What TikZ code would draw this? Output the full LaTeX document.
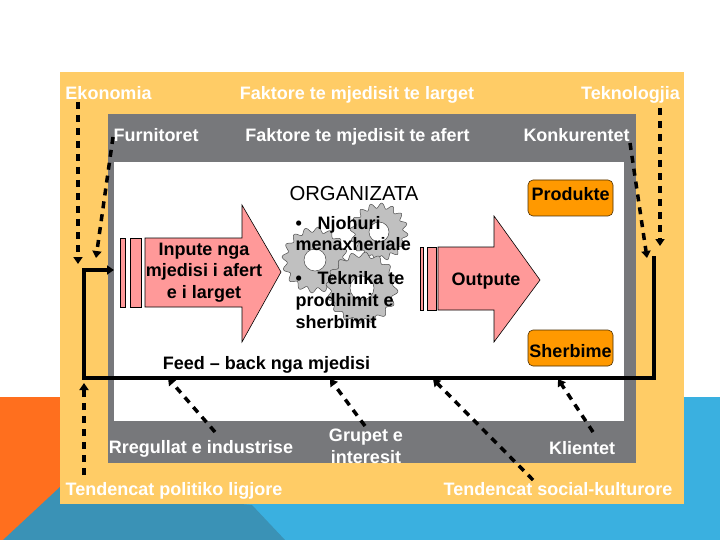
\documentclass[tikz,border=0pt]{standalone}
\usepackage{fontspec}
\setmainfont{Liberation Sans}
\usetikzlibrary{arrows.meta}
\definecolor{panel}{HTML}{FFCC66}
\definecolor{midgray}{HTML}{77787B}
\definecolor{lightblue}{HTML}{3AB0E0}
\definecolor{tealblue}{HTML}{3A92B6}
\definecolor{flame}{HTML}{FF6F1E}
\definecolor{pinkfill}{HTML}{FF9999}
\definecolor{tagfill}{HTML}{FF9900}
\definecolor{gearfill}{HTML}{C0C0C0}
\newcommand{\firststrut}{\rule{0pt}{14pt}}
\newcommand{\drawgear}[4]{% x, y, radius, hole
  \draw[gearline] plot[domain=0:360,samples=241,smooth] ({#1+(#3-2.6+2.6*sin(16*\x))*cos(\x)},{#2+(#3-2.6+2.6*sin(16*\x))*sin(\x)}) -- cycle;
  \draw[gearline,fill=white] (#1,#2) circle (#4);
}
\tikzset{
  x=1pt,y=-1pt,
  gearline/.style={draw=black!70,line width=0.5pt,fill=gearfill},
  wlabel/.style={font=\fontsize{18}{22}\selectfont\bfseries,text=white,inner sep=0,anchor=base},
  klabel/.style={font=\fontsize{18}{22}\selectfont\bfseries,text=black,inner sep=0,anchor=base},
  blockarrow/.style={draw=black,line width=0.6pt,fill=pinkfill},
  tagbox/.style={draw=black!70!tagfill,line width=0.6pt,fill=tagfill,rounded corners=5pt,minimum width=85pt,minimum height=36pt,inner sep=0},
  influence/.style={line width=3.5pt,dash pattern=on 7pt off 6pt,-{Triangle[width=9pt,length=7pt]}},
  feedback/.style={line width=3.5pt,line cap=rect}
}
\begin{document}
\begin{tikzpicture}
\useasboundingbox (0,0) rectangle (720,540);
\fill[white] (0,0) rectangle (720,540);
\fill[lightblue] (0,397) rectangle (720,540);
\fill[flame] (0,397) rectangle (60,540);
\fill[tealblue] (3,540) -- (60,487) -- (252,505) -- (285,540) -- cycle;
\fill[panel] (60,72) rectangle (684,504);
\fill[midgray] (108,114) rectangle (636,463);
\fill[white] (114,162) rectangle (624,421);

% labels on the outer and middle bands
\node[wlabel] (ekonomia) at (108.5,100) {Ekonomia};
\node[wlabel] (faktL) at (357,100) {Faktore te mjedisit te larget};
\node[wlabel] (tekn) at (630.5,100) {Teknologjia};
\node[wlabel] (furn) at (156,142) {Furnitoret};
\node[wlabel] (faktA) at (357.5,142) {Faktore te mjedisit te afert};
\node[wlabel] (konk) at (576.5,142) {Konkurentet};
\node[wlabel] (rreg) at (201,453) {Rregullat e industrise};
\node[wlabel,anchor=north,align=center] (grup) at (366,427) {\firststrut Grupet e\\interesit};
\node[wlabel] (klient) at (582,454) {Klientet};
\node[wlabel] (polit) at (174,495.5) {Tendencat politiko ligjore};
\node[wlabel] (social) at (558,495.5) {Tendencat social-kulturore};

% input arrow
\draw[blockarrow] (120,238) rectangle (125,307);
\draw[blockarrow] (130,238) rectangle (141,307);
\draw[blockarrow] (145,238) -- (242,238) -- (242,205) -- (281,272) -- (242,342) -- (242,307) -- (145,307) -- cycle;
\node[klabel,anchor=north,align=center] (inpute) at (204,241) {\firststrut Inpute nga\\[-0.5pt]mjedisi i afert\\[-0.5pt]e i larget};

% output arrow
\draw[blockarrow] (420,247) rectangle (423,310);
\draw[blockarrow] (427,247) rectangle (436,310);
\draw[blockarrow] (438,247) -- (494,247) -- (494,216) -- (540,280) -- (494,342) -- (494,310) -- (438,310) -- cycle;
\node[klabel] (outpute) at (486,285) {Outpute};

% organisation
\node[font=\fontsize{20.3}{24}\selectfont,inner sep=0,anchor=base] (org) at (354,201) {ORGANIZATA};
\drawgear{379}{232}{29}{10}
\drawgear{315}{260}{33}{11}
\drawgear{362}{288}{36}{12}
\node[klabel,anchor=north west,align=left] (know) at (295.5,215) {\firststrut\makebox[22pt][l]{•}Njohuri\\[-1pt]menaxheriale};
\node[klabel,anchor=north west,align=left] (tech) at (295.5,270.5) {\firststrut\makebox[22pt][l]{•}Teknika te\\prodhimit e\\sherbimit};

\node[tagbox] (prod) at (570.5,198) {};
\node[klabel] at (570.5,201) {Produkte};
\node[tagbox] (sherb) at (570.5,348) {};
\node[klabel] at (570.5,357) {Sherbime};
\node[klabel] (feed) at (266.5,369.5) {Feed – back nga mjedisi};

% feedback loop
\coordinate (fbRightTop) at (654,258);
\coordinate (fbRightBottom) at (654,378);
\coordinate (fbLeftBottom) at (84,378);
\coordinate (fbLeftTop) at (84,270);
\coordinate (fbEnd) at (114,270);
\draw[feedback,-{Triangle[width=9pt,length=7pt]}] (fbRightTop) -- (fbRightBottom) -- (fbLeftBottom) -- (fbLeftTop) -- (fbEnd);

% influences
\coordinate (a1s) at (78,102); \coordinate (a1e) at (78,264);
\coordinate (a2s) at (113,137); \coordinate (a2e) at (96,258);
\coordinate (a3s) at (660,108); \coordinate (a3e) at (660,246);
\coordinate (a4s) at (630,143); \coordinate (a4e) at (647,258);
\coordinate (a5s) at (84,475); \coordinate (a5e) at (84,383);
\coordinate (a6s) at (215,432); \coordinate (a6e) at (168,378);
\coordinate (a7s) at (365,426); \coordinate (a7e) at (330,379);
\coordinate (a8s) at (593,432); \coordinate (a8e) at (558,379);
\coordinate (a9s) at (533,480); \coordinate (a9e) at (433,379);
\foreach \n in {1,...,9} \draw[influence] (a\n s) -- (a\n e);
\end{tikzpicture}
\end{document}
